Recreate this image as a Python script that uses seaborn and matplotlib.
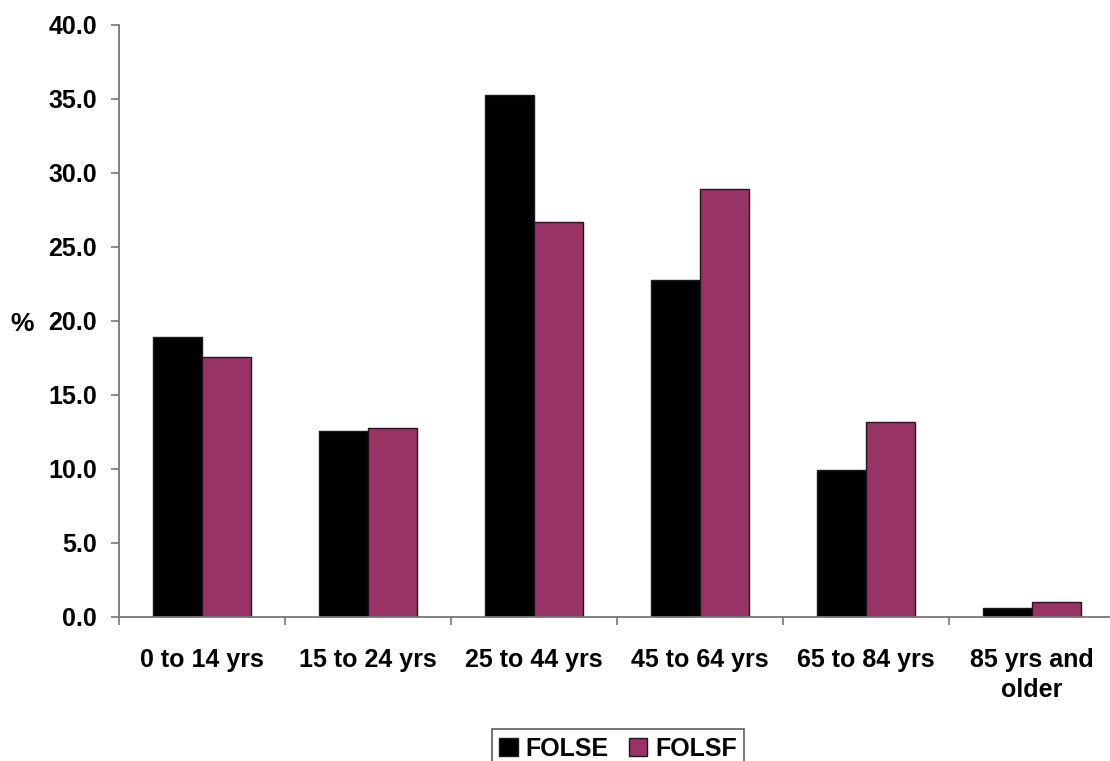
import matplotlib
matplotlib.use("Agg")
import matplotlib.pyplot as plt
from matplotlib.ticker import FixedLocator, FormatStrFormatter
import seaborn as sns
import pandas as pd

# Age groups and share of each population (%)
age_groups = ["0 to 14 yrs", "15 to 24 yrs", "25 to 44 yrs", "45 to 64 yrs",
              "65 to 84 yrs", "85 yrs and\nolder"]
folse = [18.9, 12.6, 35.3, 22.8, 9.9, 0.6]
folsf = [17.6, 12.8, 26.7, 28.9, 13.2, 1.0]
series_names = ["FOLSE", "FOLSF"]
series_colors = ["#000000", "#993366"]
y_ticks = [0, 5, 10, 15, 20, 25, 30, 35, 40]

df = pd.DataFrame({
    "age": age_groups * 2,
    "value": folse + folsf,
    "series": [series_names[0]] * len(age_groups) + [series_names[1]] * len(age_groups),
})

sns.set_style("white")
plt.rcParams["font.family"] = ["Liberation Sans", "DejaVu Sans"]
plt.rcParams["font.weight"] = "bold"
plt.rcParams["text.color"] = "black"
plt.rcParams["xtick.color"] = "black"
plt.rcParams["ytick.color"] = "black"
plt.rcParams["axes.labelcolor"] = "black"

fig = plt.figure(figsize=(11.10, 7.61), dpi=100)
ax = fig.add_axes([119 / 1110, 144 / 761, 991 / 1110, 592 / 761])

sns.barplot(data=df, x="age", y="value", hue="series", order=age_groups,
            hue_order=series_names, palette=series_colors, width=0.59,
            saturation=1, edgecolor="#1a1a1a", linewidth=1.0, ax=ax, legend=True)

ax.set_xlim(-0.5, 5.47)
ax.set_ylim(0, 40)
ax.yaxis.set_major_locator(FixedLocator(y_ticks))
ax.yaxis.set_major_formatter(FormatStrFormatter("%.1f"))

for side in ["top", "right"]:
    ax.spines[side].set_visible(False)
for side in ["left", "bottom"]:
    ax.spines[side].set_color("#777777")
    ax.spines[side].set_linewidth(1.3)

fs = 18
ax.tick_params(axis="y", which="major", direction="out", length=6, width=1.2,
               color="#777777", labelcolor="black", labelsize=fs, pad=10, left=True)
# x labels sit at category centres; tick marks go at category boundaries
ax.tick_params(axis="x", which="major", length=0, labelsize=fs, pad=22,
               labelcolor="black")
ax.xaxis.set_minor_locator(FixedLocator([i - 0.5 for i in range(len(age_groups) + 1)]))
ax.tick_params(axis="x", which="minor", direction="out", length=6, width=1.2,
               color="#777777", bottom=True)
for lbl in ax.get_xticklabels() + ax.get_yticklabels():
    lbl.set_fontweight("bold")
for lbl in ax.get_xticklabels():
    lbl.set_linespacing(1.35)

ax.set_xlabel("")
ax.set_ylabel("%", rotation=0, fontsize=fs + 1, fontweight="bold", va="center",
              ha="center")
ax.yaxis.set_label_coords(-0.098, 0.495)

handles, labels = ax.get_legend_handles_labels()
ax.get_legend().remove()
leg = fig.legend(handles, labels, loc="upper center", ncol=2,
                 bbox_to_anchor=(618 / 1110, 1 - 729 / 761),
                 prop={"size": fs, "weight": "bold"}, frameon=True,
                 fancybox=False, edgecolor="#333333", handlelength=0.75,
                 handleheight=0.75, handletextpad=0.3, columnspacing=0.8,
                 borderpad=0.3, borderaxespad=0)
leg.get_frame().set_linewidth(1.2)
for t in leg.get_texts():
    t.set_color("black")

fig.savefig("out.png", dpi=100)
